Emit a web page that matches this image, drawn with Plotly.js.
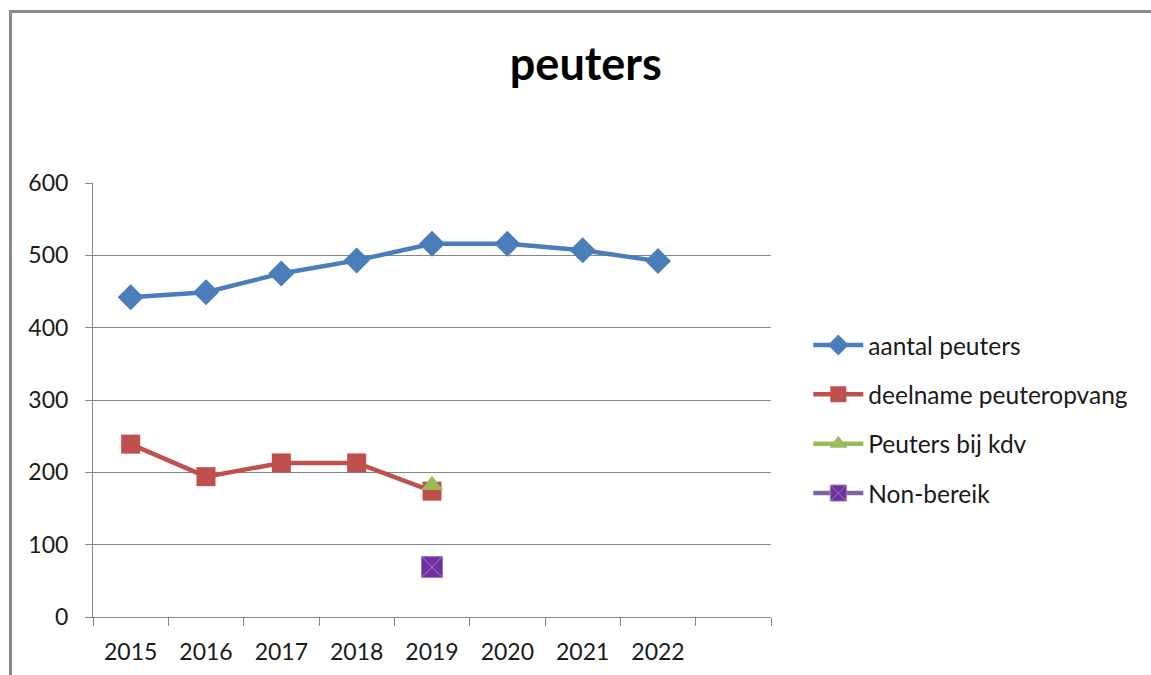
<!DOCTYPE html>
<html>
<head>
<meta charset="utf-8">
<script src="https://cdn.plot.ly/plotly-3.0.1.min.js"></script>
<style>
  html, body { margin: 0; padding: 0; background: #fff; }
  #wrap { position: relative; width: 1151px; height: 675px; }
  #chart { width: 1151px; height: 675px; }
  #frame { position: absolute; left: 9px; top: 10px; width: 1142px; height: 665px;
           border-top: 3px solid #8a8a8a; border-left: 3px solid #8a8a8a;
           box-sizing: border-box; pointer-events: none; }
</style>
</head>
<body>
<div id="wrap">
  <div id="chart"></div>
  <div id="frame"></div>
</div>
<script>
const categories = ['2015', '2016', '2017', '2018', '2019', '2020', '2021', '2022', ' '];
const yearsAantal = ['2015', '2016', '2017', '2018', '2019', '2020', '2021', '2022'];
const aantalPeuters = [442, 449, 475, 493, 516, 516, 507, 492];
const yearsDeelname = ['2015', '2016', '2017', '2018', '2019'];
const deelnamePeuteropvang = [239, 194, 213, 213, 174];
const yearsKdv = ['2019'];
const peutersBijKdv = [182];
const yearsNon = ['2019'];
const nonBereik = [69];

const font = 'Lato, "Open Sans", "Liberation Sans", sans-serif';

const traces = [
  { name: 'aantal peuters', x: yearsAantal, y: aantalPeuters, type: 'scatter', mode: 'lines+markers',
    legendgroup: 'a',
    line: { color: '#4a7ebb', width: 4.5 },
    marker: { symbol: 'diamond', size: 20, color: '#4a7ebb' } },
  { name: 'deelname peuteropvang', x: yearsDeelname, y: deelnamePeuteropvang, type: 'scatter', mode: 'lines+markers',
    legendgroup: 'b',
    line: { color: '#c0504d', width: 4.5 },
    marker: { symbol: 'square', size: 19, color: '#c0504d' } },
  { name: 'Peuters bij kdv', x: yearsKdv, y: peutersBijKdv, type: 'scatter', mode: 'lines+markers',
    legendgroup: 'c',
    line: { color: '#9bbb59', width: 4.5 },
    marker: { symbol: 'triangle-up', size: 19, color: '#9bbb59' } },
  { name: 'Non-bereik', x: yearsNon, y: nonBereik, type: 'scatter', mode: 'lines+markers',
    legendgroup: 'd',
    line: { color: '#8064a2', width: 4.5 },
    marker: { symbol: 'square-x', size: 21, color: '#7030a0', line: { color: '#9a7cc0', width: 1 } } }
];

const layout = {
  width: 1151, height: 675,
  margin: { l: 93, r: 380, t: 183, b: 58 },
  paper_bgcolor: '#ffffff', plot_bgcolor: '#ffffff',
  font: { family: font, color: '#1a1a1a', size: 23 },
  title: { text: '<b>peuters</b>', font: { family: font, size: 45, color: '#000' },
           x: 0.509, xref: 'container', xanchor: 'center', y: 0.905, yref: 'container', yanchor: 'middle' },
  showlegend: true,
  legend: { x: 1.055, xanchor: 'left', y: 0.456, yanchor: 'middle', traceorder: 'grouped', tracegroupgap: 14.5,
            font: { family: font, size: 24.5, color: '#1a1a1a' }, itemwidth: 50, bgcolor: 'rgba(0,0,0,0)' },
  xaxis: {
    type: 'category', categoryorder: 'array', categoryarray: categories,
    range: [-0.5, 8.5], tickson: 'boundaries',
    showgrid: false, showline: true, linecolor: '#868686', linewidth: 1,
    ticks: 'outside', ticklen: 8, tickcolor: '#868686', ticklabelstandoff: 14,
    tickfont: { family: font, size: 23, color: '#1a1a1a' }, fixedrange: true
  },
  yaxis: {
    range: [0, 600], dtick: 100, tick0: 0,
    showgrid: true, gridcolor: '#868686', gridwidth: 1, zeroline: false,
    showline: true, linecolor: '#868686', linewidth: 1,
    ticks: 'outside', ticklen: 7, tickcolor: '#868686', ticklabelstandoff: 12,
    tickfont: { family: font, size: 23, color: '#1a1a1a' }, fixedrange: true
  }
};

Plotly.newPlot('chart', traces, layout, { displayModeBar: false, staticPlot: true });
</script>
</body>
</html>
